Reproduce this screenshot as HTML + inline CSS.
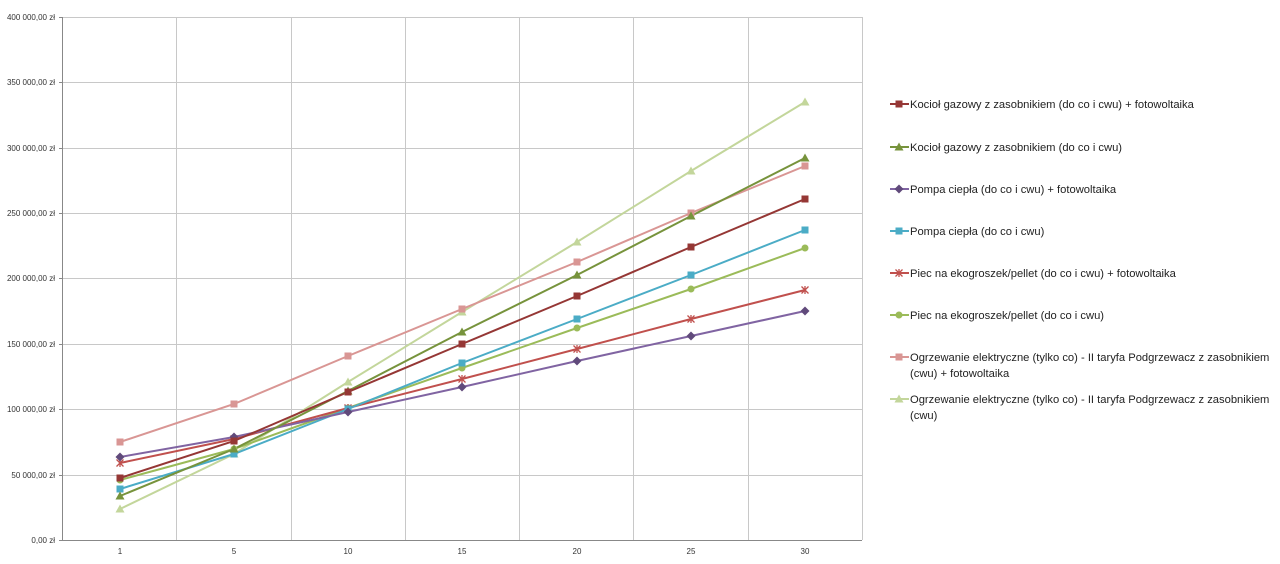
<!DOCTYPE html><html><head><style>body{margin:0;background:#fff}svg text{font-family:"Liberation Sans",sans-serif}</style></head><body>
<svg width="1280" height="559" xmlns="http://www.w3.org/2000/svg">
<g stroke="#c8c8c8" stroke-width="1">
<line x1="62" y1="17.5" x2="862" y2="17.5"/><line x1="62" y1="82.5" x2="862" y2="82.5"/><line x1="62" y1="148.5" x2="862" y2="148.5"/><line x1="62" y1="213.5" x2="862" y2="213.5"/><line x1="62" y1="278.5" x2="862" y2="278.5"/><line x1="62" y1="344.5" x2="862" y2="344.5"/><line x1="62" y1="409.5" x2="862" y2="409.5"/><line x1="62" y1="475.5" x2="862" y2="475.5"/>
<line x1="176.5" y1="17" x2="176.5" y2="540"/><line x1="291.5" y1="17" x2="291.5" y2="540"/><line x1="405.5" y1="17" x2="405.5" y2="540"/><line x1="519.5" y1="17" x2="519.5" y2="540"/><line x1="633.5" y1="17" x2="633.5" y2="540"/><line x1="748.5" y1="17" x2="748.5" y2="540"/><line x1="862.5" y1="17" x2="862.5" y2="540"/>
</g>
<g stroke="#888" stroke-width="1"><line x1="62.5" y1="17" x2="62.5" y2="541"/><line x1="59" y1="540.5" x2="862" y2="540.5"/>
<line x1="59" y1="17.5" x2="62" y2="17.5"/><line x1="59" y1="82.5" x2="62" y2="82.5"/><line x1="59" y1="148.5" x2="62" y2="148.5"/><line x1="59" y1="213.5" x2="62" y2="213.5"/><line x1="59" y1="278.5" x2="62" y2="278.5"/><line x1="59" y1="344.5" x2="62" y2="344.5"/><line x1="59" y1="409.5" x2="62" y2="409.5"/><line x1="59" y1="475.5" x2="62" y2="475.5"/></g>
<g font-size="8" fill="#333" text-anchor="end">
<text x="55" y="20">400 000,00 zł</text><text x="55" y="85">350 000,00 zł</text><text x="55" y="151">300 000,00 zł</text><text x="55" y="216">250 000,00 zł</text><text x="55" y="281">200 000,00 zł</text><text x="55" y="347">150 000,00 zł</text><text x="55" y="412">100 000,00 zł</text><text x="55" y="478">50 000,00 zł</text><text x="55" y="543">0,00 zł</text></g>
<g font-size="8" fill="#333" text-anchor="middle"><text x="120" y="554">1</text><text x="234" y="554">5</text><text x="348" y="554">10</text><text x="462" y="554">15</text><text x="577" y="554">20</text><text x="691" y="554">25</text><text x="805" y="554">30</text></g>
<g fill="none" stroke-width="2">
<polyline stroke="#C3D69B" points="120,509 234,454 348,382 462,312 577,242 691,171 805,102"/>
<polyline stroke="#D99694" points="120,442 234,404 348,356 462,309 577,262 691,213 805,166"/>
<polyline stroke="#9BBB59" points="120,480 234,449 348,408 462,368 577,328 691,289 805,248"/>
<polyline stroke="#C0504D" points="120,463 234,439 348,408 462,379 577,349 691,319 805,290"/>
<polyline stroke="#4BACC6" points="120,489 234,454 348,409 462,363 577,319 691,275 805,230"/>
<polyline stroke="#8064A2" points="120,457 234,437 348,412 462,387 577,361 691,336 805,311"/>
<polyline stroke="#77933C" points="120,496 234,449 348,391 462,332 577,275 691,216 805,158"/>
<polyline stroke="#953735" points="120,478 234,441 348,392 462,344 577,296 691,247 805,199"/>
</g>
<defs>
<rect id="sq" x="-3.5" y="-3.5" width="7" height="7"/>
<polygon id="tr" points="0,-4.5 4.5,3.5 -4.5,3.5"/>
<polygon id="di" points="0,-4.5 4.5,0 0,4.5 -4.5,0"/>
<circle id="ci" r="3.5"/>
<path id="xx" d="M-3.5,-3.5L3.5,3.5M-3.5,3.5L3.5,-3.5M0,-4V4" stroke-width="1.3" fill="none"/>
</defs>
<g fill="#C3D69B"><use href="#tr" x="120" y="509"/><use href="#tr" x="234" y="454"/><use href="#tr" x="348" y="382"/><use href="#tr" x="462" y="312"/><use href="#tr" x="577" y="242"/><use href="#tr" x="691" y="171"/><use href="#tr" x="805" y="102"/></g>
<g fill="#D99694"><use href="#sq" x="120" y="442"/><use href="#sq" x="234" y="404"/><use href="#sq" x="348" y="356"/><use href="#sq" x="462" y="309"/><use href="#sq" x="577" y="262"/><use href="#sq" x="691" y="213"/><use href="#sq" x="805" y="166"/></g>
<g fill="#9BBB59"><use href="#ci" x="120" y="480"/><use href="#ci" x="234" y="449"/><use href="#ci" x="348" y="408"/><use href="#ci" x="462" y="368"/><use href="#ci" x="577" y="328"/><use href="#ci" x="691" y="289"/><use href="#ci" x="805" y="248"/></g>
<g stroke="#C0504D"><use href="#xx" x="120" y="463"/><use href="#xx" x="234" y="439"/><use href="#xx" x="348" y="408"/><use href="#xx" x="462" y="379"/><use href="#xx" x="577" y="349"/><use href="#xx" x="691" y="319"/><use href="#xx" x="805" y="290"/></g>
<g fill="#4BACC6"><use href="#sq" x="120" y="489"/><use href="#sq" x="234" y="454"/><use href="#sq" x="348" y="409"/><use href="#sq" x="462" y="363"/><use href="#sq" x="577" y="319"/><use href="#sq" x="691" y="275"/><use href="#sq" x="805" y="230"/></g>
<g fill="#604A7B"><use href="#di" x="120" y="457"/><use href="#di" x="234" y="437"/><use href="#di" x="348" y="412"/><use href="#di" x="462" y="387"/><use href="#di" x="577" y="361"/><use href="#di" x="691" y="336"/><use href="#di" x="805" y="311"/></g>
<g fill="#77933C"><use href="#tr" x="120" y="496"/><use href="#tr" x="234" y="449"/><use href="#tr" x="348" y="391"/><use href="#tr" x="462" y="332"/><use href="#tr" x="577" y="275"/><use href="#tr" x="691" y="216"/><use href="#tr" x="805" y="158"/></g>
<g fill="#953735"><use href="#sq" x="120" y="478"/><use href="#sq" x="234" y="441"/><use href="#sq" x="348" y="392"/><use href="#sq" x="462" y="344"/><use href="#sq" x="577" y="296"/><use href="#sq" x="691" y="247"/><use href="#sq" x="805" y="199"/></g>
<g stroke-width="2">
<line x1="890" y1="104" x2="909" y2="104" stroke="#953735"/><use href="#sq" x="899" y="104" fill="#953735"/>
<line x1="890" y1="147" x2="909" y2="147" stroke="#77933C"/><use href="#tr" x="899" y="147" fill="#77933C"/>
<line x1="890" y1="189" x2="909" y2="189" stroke="#8064A2"/><use href="#di" x="899" y="189" fill="#604A7B"/>
<line x1="890" y1="231" x2="909" y2="231" stroke="#4BACC6"/><use href="#sq" x="899" y="231" fill="#4BACC6"/>
<line x1="890" y1="273" x2="909" y2="273" stroke="#C0504D"/><use href="#xx" x="899" y="273" stroke="#C0504D"/>
<line x1="890" y1="315" x2="909" y2="315" stroke="#9BBB59"/><use href="#ci" x="899" y="315" fill="#9BBB59"/>
<line x1="890" y1="357" x2="909" y2="357" stroke="#D99694"/><use href="#sq" x="899" y="357" fill="#D99694"/>
<line x1="890" y1="399" x2="909" y2="399" stroke="#C3D69B"/><use href="#tr" x="899" y="399" fill="#C3D69B"/>
</g>
<g font-size="11.2" fill="#222">
<text x="910" y="108">Kocioł gazowy z zasobnikiem (do co i cwu) + fotowoltaika</text>
<text x="910" y="151">Kocioł gazowy z zasobnikiem (do co i cwu)</text>
<text x="910" y="193">Pompa ciepła (do co i cwu) + fotowoltaika</text>
<text x="910" y="235">Pompa ciepła (do co i cwu)</text>
<text x="910" y="277">Piec na ekogroszek/pellet (do co i cwu) + fotowoltaika</text>
<text x="910" y="319">Piec na ekogroszek/pellet (do co i cwu)</text>
<text x="910" y="361">Ogrzewanie elektryczne (tylko co) - II taryfa Podgrzewacz z zasobnikiem</text>
<text x="910" y="377">(cwu) + fotowoltaika</text>
<text x="910" y="403">Ogrzewanie elektryczne (tylko co) - II taryfa Podgrzewacz z zasobnikiem</text>
<text x="910" y="419">(cwu)</text>
</g>
</svg></body></html>
